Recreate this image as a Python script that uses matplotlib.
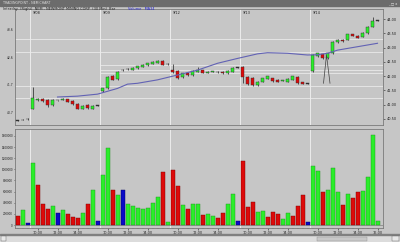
import matplotlib.pyplot as plt
from matplotlib.patches import Rectangle

# 30 min bars: 3 bars of the previous session, then 9/08, 9/09, 9/12, 9/13, 9/14 (14 bars each)
opens = [40.44, 40.46, 40.50,
         40.86, 41.18, 41.19, 41.17, 40.99, 41.15, 41.17, 41.19, 41.13, 41.03, 40.86, 40.99, 40.86, 40.97,
         41.48, 41.59, 42.00, 41.89, 42.21, 42.24, 42.22, 42.28, 42.33, 42.38, 42.44, 42.47, 42.53, 42.42,
         42.20, 42.18, 41.96, 42.10, 42.04, 42.15, 42.21, 42.12, 42.15, 42.15, 42.15, 42.10, 42.16, 42.30,
         42.33, 41.98, 41.95, 41.69, 41.80, 41.91, 41.93, 41.87, 41.83, 41.80, 41.88, 41.98, 41.78, 41.73,
         42.18, 42.70, 42.76, 42.62, 42.80, 43.18, 43.27, 43.27, 43.46, 43.41, 43.38, 43.50, 43.73, 43.94]
highs = [40.47, 40.49, 40.52,
         41.63, 41.24, 41.22, 41.19, 41.19, 41.18, 41.23, 41.21, 41.15, 41.05, 40.99, 41.01, 40.99, 40.99,
         41.60, 42.00, 42.03, 42.18, 42.26, 42.28, 42.32, 42.37, 42.42, 42.47, 42.52, 42.56, 42.55, 42.45,
         42.42, 42.20, 42.12, 42.12, 42.20, 42.33, 42.23, 42.18, 42.19, 42.17, 42.17, 42.21, 42.32, 42.32,
         42.35, 42.00, 41.97, 41.83, 41.94, 42.01, 41.95, 41.89, 41.86, 41.93, 42.02, 42.00, 41.80, 41.75,
         42.76, 42.82, 42.78, 42.82, 43.23, 43.29, 43.29, 43.48, 43.48, 43.43, 43.54, 43.75, 44.06, 43.96]
lows = [40.42, 40.45, 40.48,
        40.84, 41.12, 41.10, 40.91, 40.97, 41.12, 41.15, 41.08, 40.99, 40.84, 40.84, 40.85, 40.84, 40.95,
        41.45, 41.56, 41.85, 41.87, 42.17, 42.20, 42.20, 42.26, 42.31, 42.36, 42.42, 42.45, 42.38, 42.40,
        42.10, 41.90, 41.94, 42.01, 42.02, 42.13, 42.10, 42.10, 42.13, 42.12, 42.08, 42.08, 42.14, 42.28,
        41.76, 41.70, 41.67, 41.67, 41.78, 41.89, 41.81, 41.78, 41.82, 41.78, 41.86, 41.73, 41.71, 41.71,
        42.16, 42.68, 42.60, 42.60, 42.78, 43.16, 43.20, 43.25, 43.39, 43.33, 43.36, 43.48, 43.71, 43.92]
closes = [40.44, 40.47, 40.50,
          41.24, 41.19, 41.14, 40.99, 41.17, 41.15, 41.21, 41.10, 41.01, 40.86, 40.97, 40.87, 40.97, 40.97,
          41.57, 41.98, 41.87, 42.16, 42.21, 42.26, 42.30, 42.35, 42.40, 42.45, 42.50, 42.54, 42.40, 42.43,
          42.16, 41.92, 42.10, 42.03, 42.18, 42.21, 42.12, 42.16, 42.18, 42.14, 42.10, 42.19, 42.30, 42.30,
          41.98, 41.72, 41.69, 41.81, 41.92, 41.99, 41.83, 41.80, 41.85, 41.91, 42.00, 41.75, 41.73, 41.73,
          42.74, 42.80, 42.62, 42.80, 43.21, 43.27, 43.22, 43.46, 43.41, 43.35, 43.52, 43.73, 43.94, 43.94]

volumes = [166, 267, 41,
           1108, 711, 379, 284, 344, 219, 278, 196, 142, 130, 225, 373, 622, 71,
           907, 1390, 634, 545, 634, 385, 344, 314, 284, 308, 403, 504, 960, 47,
           990, 693, 367, 296, 373, 373, 178, 207, 166, 119, 219, 373, 551, 65,
           1143, 326, 409, 243, 249, 148, 231, 190, 107, 225, 160, 350, 545, 59,
           1067, 978, 593, 634, 1031, 599, 367, 551, 486, 593, 604, 871, 1618, 71]
vol_colors = list("rgb" "grrrgbgrrrgrgb" "ggrgbgggggggrg" "rrgrggrggrrggb" "rrrggrrrggrrrb" "ggrgggrgrrgggg")

# MA34 as drawn in the chart (bar index, price)
ma_idx = [8, 12, 16, 20, 22, 24, 28, 32, 36, 40, 44, 48, 50, 54, 58, 60, 62, 64, 66, 68, 70, 72]
ma_val = [41.27, 41.30, 41.37, 41.57, 41.72, 41.75, 41.87, 42.04, 42.21, 42.45, 42.62, 42.78,
          42.82, 42.80, 42.74, 42.75, 42.80, 42.91, 42.97, 43.03, 43.09, 43.15]

# user drawn horizontal lines (price, first bar)
hlines = [(43.30, -0.5), (42.85, -0.5), (42.39, 16.5), (42.21, 16.5), (42.11, 16.5), (41.66, -0.5), (41.24, -0.5)]
spike_x = [61.2, 61.8, 62.5]
spike_y = [41.75, 42.74, 41.75]

day_starts = [2.5, 16.5, 30.5, 44.5, 58.5]
day_names = ["9/08", "9/09", "9/12", "9/13", "9/14"]
time_ticks = [4, 8, 12, 18, 22, 26, 32, 36, 40, 46, 50, 54, 60, 64, 68, 72]
time_labels = ["10:00", "12:00", "14:00"] * 5 + ["16:00"]
price_ticks = [40.5, 41.0, 41.5, 42.0, 42.5, 43.0, 43.5, 44.0]
left_ticks = [43.62, 42.64, 41.69, 40.71]
vol_ticks = [0, 200, 400, 600, 800, 1000, 1200, 1400, 1600]

BG = "#c6c6c6"
GREEN = "#2aee2a"
RED = "#dd0a0a"
BLUE = "#0a0ac8"
cmap = {"g": GREEN, "r": RED, "b": BLUE}
edge = {"g": "#209020", "r": "#7a0000", "b": "#000060"}

W, H = 400, 242
fig = plt.figure(figsize=(4, 2.42), dpi=100, facecolor=BG)
xl = (-0.5, 73.1)
axp = fig.add_axes([15 / W, 1 - 125 / H, 368 / W, 116 / H], facecolor=BG)
axv = fig.add_axes([15 / W, 1 - 228 / H, 368 / W, 99 / H], facecolor=BG)

# price panel
for p, x0 in hlines:
    axp.plot([x0, xl[1]], [p, p], color="#e4e4e4", lw=0.7, zorder=1)
for i in range(len(opens)):
    o, c = opens[i], closes[i]
    col = GREEN if c > o else (RED if c < o else "#303030")
    axp.vlines(i, lows[i], highs[i], color="#202020", lw=0.5, zorder=2)
    lo = min(o, c)
    hgt = max(abs(c - o), 0.015)
    axp.bar(i, hgt, bottom=lo, width=0.75, color=col, edgecolor="#303030", lw=0.3, zorder=3)
axp.plot(ma_idx, ma_val, color="#6262b4", lw=0.8, zorder=4)
axp.plot(spike_x, spike_y, color="#404040", lw=0.5, zorder=4)
axp.set_xlim(*xl)
axp.set_ylim(40.29, 44.35)
axp.yaxis.tick_right()
axp.set_yticks(price_ticks)
axp.set_yticklabels([f"{v:.2f}" for v in price_ticks])
axp.set_xticks([])
axp.tick_params(axis="y", labelsize=2.5, length=1.5, width=0.4, pad=1, colors="#202020")
for t, lab in zip(left_ticks, ["43.6", "42.6", "41.7", "40.7"]):
    axp.text(-0.8, t, lab, fontsize=2.2, ha="right", va="center", color="#202020", clip_on=False)

# volume panel
axv.bar(range(len(volumes)), [v / 1000 for v in volumes], width=0.8,
        color=[cmap[k] for k in vol_colors], edgecolor=[edge[k] for k in vol_colors], lw=0.3, zorder=3)
axv.set_xlim(*xl)
axv.set_ylim(-0.053, 1.724)
axv.set_yticks([v / 1000 for v in vol_ticks])
axv.set_yticklabels([str(v * 1000) for v in vol_ticks])
axv.set_xticks(time_ticks)
axv.set_xticklabels(time_labels)
axv.set_xticks(range(len(volumes)), minor=True)
axv.tick_params(axis="x", labelsize=2.5, length=1.5, width=0.4, pad=1, colors="#202020")
axv.tick_params(axis="y", labelsize=2.0, length=1.0, width=0.4, pad=0.5, colors="#202020")
axv.tick_params(axis="x", which="minor", length=1, width=0.3, colors="#303030")
axv.axhline(0, color="#808080", lw=0.5, zorder=2)

for ax in (axp, axv):
    for s in ax.spines.values():
        s.set_color("#7a7a7a")
        s.set_linewidth(0.6)
    for d in day_starts:
        ax.axvline(d, color="#ececec", lw=0.7, zorder=1)

for d, name in zip(day_starts, day_names):
    axp.text(d + 0.5, 44.22, name, fontsize=2.5, color="#202020", ha="left", va="center")

# window chrome
fig.patches.append(Rectangle((0, 1 - 6 / H), 1, 6 / H, transform=fig.transFigure, color="#6c6c6c", zorder=0))
fig.text(3 / W, 1 - 3 / H, "TRADINGPOINT - NEM CHART", fontsize=2.3, color="#e0e0e0", va="center")
fig.text(397 / W, 1 - 3 / H, "_ \u25a1 x", fontsize=2.5, color="#f0f0f0", va="center", ha="right")
fig.text(3 / W, 1 - 9 / H, "Intraday  (Right)  NEM - NEWMONT MINING CORP  (30 Min)  Bar", fontsize=2.5,
         color="#202020", va="center")
fig.text(128 / W, 1 - 9 / H, "Volume   MA34", fontsize=2.5, color="#2020d0", va="center")
fig.patches.append(Rectangle((0, 0), 1, 7 / H, transform=fig.transFigure, color="#dcdcdc", zorder=0))
fig.patches.append(Rectangle((0, 7 / H), 1, 0.6 / H, transform=fig.transFigure, color="#808080", zorder=0))
fig.patches.append(Rectangle((317 / W, 1.5 / H), 50 / W, 4 / H, transform=fig.transFigure,
                             facecolor="#c8c8c8", edgecolor="#909090", lw=0.3, zorder=0))
fig.patches.append(Rectangle((392 / W, 1 / H), 7 / W, 5 / H, transform=fig.transFigure,
                             facecolor="#e8e8e8", edgecolor="#606060", lw=0.3, zorder=0))
fig.patches.append(Rectangle((1 / W, 1 / H), 5 / W, 5 / H, transform=fig.transFigure,
                             facecolor="#e8e8e8", edgecolor="#606060", lw=0.3, zorder=0))

fig.savefig("out.png", dpi=100, facecolor=BG)
